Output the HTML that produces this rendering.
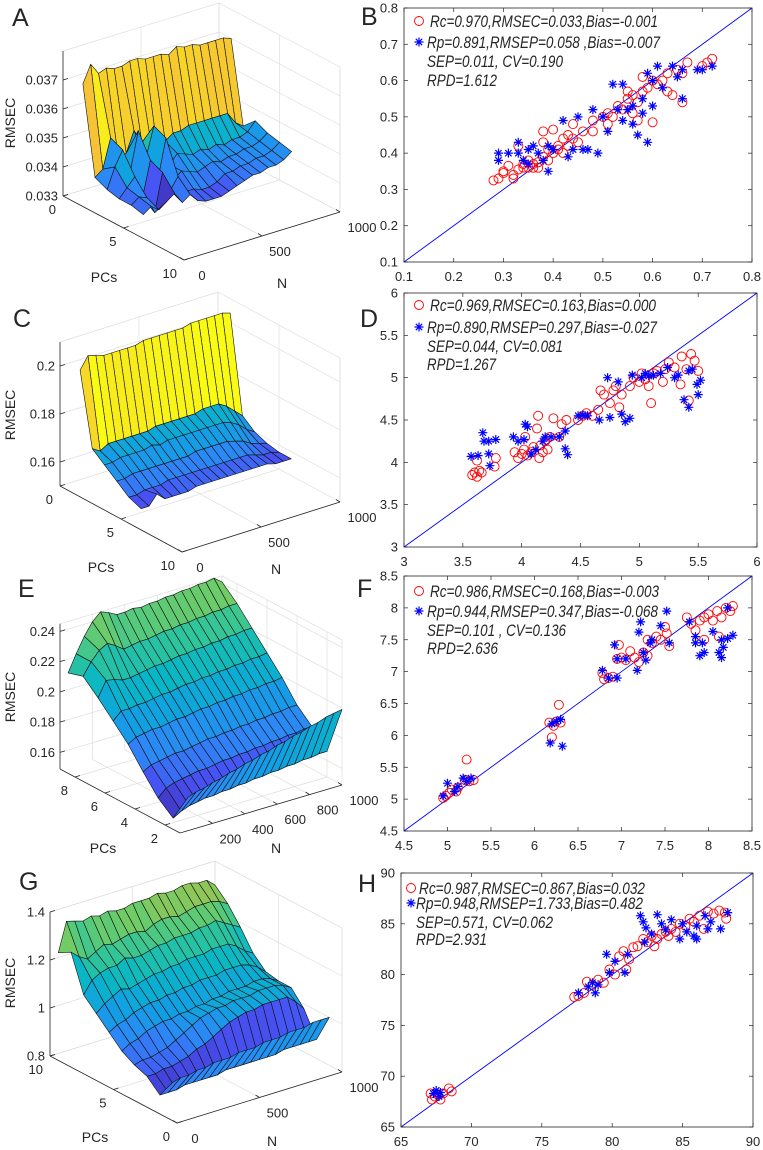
<!DOCTYPE html>
<html><head><meta charset="utf-8"><style>
html,body{margin:0;padding:0;background:#fff}
svg{display:block}
text{font-family:"Liberation Sans",Arial,sans-serif;fill:#262626}
</style></head><body>
<svg id="fig" width="763" height="1150" viewBox="0 0 763 1150" xmlns="http://www.w3.org/2000/svg">
<rect x="0" y="0" width="763" height="1150" fill="#fff"/>
<text x="12" y="26" font-size="25">A</text>
<text x="361" y="25" font-size="25">B</text>
<text x="13" y="327" font-size="25">C</text>
<text x="360" y="327" font-size="25">D</text>
<text x="18" y="597" font-size="25">E</text>
<text x="357" y="597" font-size="25">F</text>
<text x="19" y="890" font-size="25">G</text>
<text x="358" y="892" font-size="25">H</text>
</svg>
<script>
// ---------- 3D surface data ----------
const nCols = [50,100,150,200,250,300,350,400,450,500,550,600,650,700,750,800,850,900,950,1000];
const aPcs = [1,2,3,4,5,6];
const aZ = [
[.0370,.0376,.0372,.0373,.0372,.0372,.0373,.0373,.0372,.0372,.0372,.0371,.0373,.0372,.0372,.0371,.0371,.0371,.0371,.0370],
[.0340,.0342,.0352,.0344,.0345,.0352,.0347,.0349,.0343,.0345,.0347,.0347,.0348,.0348,.0348,.0348,.0348,.0348,.0344,.0342],
[.0338,.0345,.0350,.0342,.0355,.0345,.0355,.0342,.0340,.0343,.0342,.0341,.0342,.0341,.0342,.0341,.0342,.0342,.0343,.0346],
[.0337,.0340,.0343,.0335,.0347,.0340,.0353,.0338,.0340,.0339,.0338,.0339,.0340,.0339,.0340,.0340,.0341,.0341,.0342,.0344],
[.0337,.0339,.0338,.0332,.0345,.0338,.0342,.0336,.0336,.0335,.0335,.0336,.0338,.0338,.0339,.0339,.0340,.0340,.0341,.0343],
[.0336,.0338,.0336,.0338,.0340,.0336,.0338,.0335,.0334,.0334,.0334,.0335,.0336,.0337,.0338,.0338,.0339,.0339,.0340,.0342]
];
const cPcs = [1,2,3,4,5,6];
const cZ = [
[.200,.205,.204,.203,.203,.203,.203,.203,.204,.204,.204,.204,.204,.204,.205,.205,.205,.205,.205,.204],
[.170,.168,.170,.170,.170,.170,.170,.170,.171,.171,.171,.171,.171,.171,.172,.172,.172,.170,.167,.164],
[.166,.166,.167,.167,.167,.167,.168,.167,.168,.168,.168,.168,.168,.168,.168,.168,.167,.165,.162,.160],
[.162,.162,.163,.163,.163,.163,.163,.163,.163,.163,.164,.164,.164,.164,.164,.163,.162,.160,.159,.158],
[.158,.158,.159,.159,.159,.160,.160,.160,.160,.160,.160,.160,.160,.160,.160,.160,.159,.158,.158,.157],
[.156,.156,.160,.157,.157,.157,.157,.158,.158,.158,.158,.158,.158,.158,.158,.158,.158,.157,.157,.157]
];
const ePcs = [9,8,7,6,5,4,3,2,1];
const eZ = [
[.211,.222,.232,.240,.245,.243,.240,.240,.241,.240,.241,.241,.242,.242,.243,.243,.244,.244,.245,.241],
[.214,.222,.228,.231,.228,.224,.225,.226,.226,.227,.228,.228,.229,.229,.230,.230,.231,.231,.232,.232],
[.205,.215,.214,.212,.212,.213,.214,.215,.215,.216,.217,.217,.218,.218,.219,.219,.220,.220,.221,.221],
[.195,.200,.200,.201,.201,.202,.203,.203,.204,.205,.205,.206,.206,.207,.207,.208,.208,.209,.209,.210],
[.185,.188,.189,.190,.190,.191,.192,.192,.193,.194,.194,.195,.195,.196,.196,.197,.197,.198,.198,.199],
[.172,.175,.176,.177,.178,.178,.179,.180,.181,.181,.182,.182,.183,.183,.184,.184,.185,.185,.186,.186],
[.160,.165,.167,.168,.169,.170,.170,.171,.172,.172,.173,.173,.174,.174,.175,.175,.176,.176,.177,.177],
[.152,.155,.157,.158,.159,.159,.160,.160,.161,.161,.162,.162,.163,.163,.164,.164,.165,.165,.166,.166],
[.171,.173,.174,.176,.177,.179,.180,.182,.183,.185,.186,.188,.189,.191,.192,.194,.195,.197,.198,.199]
];
const gPcs = [10,9,8,7,6,5,4,3,2,1];
const gZ = [
[1.22,1.34,1.33,1.32,1.33,1.32,1.33,1.32,1.32,1.33,1.33,1.33,1.34,1.33,1.33,1.34,1.34,1.33,1.33,1.30],
[1.25,1.22,1.20,1.22,1.24,1.23,1.24,1.25,1.25,1.24,1.26,1.27,1.27,1.26,1.27,1.28,1.28,1.28,1.27,1.25],
[1.10,1.15,1.17,1.18,1.18,1.20,1.19,1.19,1.20,1.21,1.21,1.22,1.22,1.22,1.23,1.23,1.24,1.22,1.20,1.18],
[1.05,1.08,1.10,1.12,1.11,1.12,1.13,1.14,1.14,1.15,1.15,1.16,1.16,1.16,1.17,1.17,1.17,1.15,1.12,1.10],
[1.00,1.02,1.03,1.05,1.06,1.07,1.07,1.08,1.08,1.09,1.09,1.10,1.10,1.10,1.11,1.11,1.11,1.10,1.08,1.05],
[.95,.97,.98,1.00,1.01,1.02,1.02,1.03,1.03,1.04,1.04,1.05,1.05,1.06,1.06,1.06,1.07,1.07,1.06,1.04],
[.92,.93,.93,.94,.95,.97,.99,1.01,1.03,1.04,1.05,1.05,1.06,1.06,1.06,1.07,1.07,1.07,1.06,1.04],
[.90,.90,.91,.91,.92,.93,.95,.96,.98,1.00,1.02,1.03,1.04,1.04,1.05,1.05,1.05,1.05,1.02,.98],
[.85,.85,.85,.86,.86,.86,.86,.86,.87,.87,.87,.87,.87,.87,.87,.88,.88,.88,.88,.88],
[.93,.94,.94,.95,.95,.96,.96,.96,.97,.97,.97,.98,.98,.98,.99,.99,.99,1.00,1.00,1.00]
];
const aZTicks=[.033,.034,.035,.036,.037], aZLabels=["0.033","0.034","0.035","0.036","0.037"];
const cZTicks=[.16,.18,.2], cZLabels=["0.16","0.18","0.2"];
const eZTicks=[.16,.18,.2,.22,.24], eZLabels=["0.16","0.18","0.2","0.22","0.24"];
const gZTicks=[.8,1,1.2,1.4], gZLabels=["0.8","1","1.2","1.4"];
const pcTicks10=[0,5,10], pcTicksE=[2,4,6,8];
const nTicks3=[0,500,1000], nTicksE=[200,400,600,800,1000];

// ---------- scatter data ----------
const bCal=[[.28,.325],[.29,.33],[.30,.35],[.30,.345],[.31,.365],[.32,.34],[.32,.33],[.33,.355],[.33,.42],[.34,.36],[.34,.37],[.35,.36],[.35,.38],[.36,.36],[.36,.37],[.37,.375],[.37,.36],[.38,.46],[.38,.43],[.38,.39],[.39,.41],[.39,.38],[.40,.40],[.40,.465],[.41,.41],[.41,.42],[.42,.40],[.42,.44],[.43,.45],[.43,.42],[.44,.48],[.44,.44],[.45,.43],[.46,.46],[.48,.49],[.48,.46],[.50,.50],[.51,.48],[.51,.51],[.52,.50],[.53,.53],[.54,.52],[.55,.55],[.55,.57],[.56,.56],[.57,.54],[.58,.61],[.58,.57],[.59,.58],[.60,.485],[.60,.60],[.61,.59],[.62,.60],[.63,.57],[.63,.62],[.64,.56],[.65,.63],[.66,.54],[.66,.62],[.67,.65],[.70,.64],[.71,.65],[.72,.66],[.57,.49],[.56,.51]];
const bPred=[[.29,.38],[.29,.40],[.31,.40],[.33,.43],[.33,.40],[.34,.38],[.35,.37],[.35,.41],[.36,.42],[.37,.40],[.38,.38],[.39,.35],[.39,.42],[.40,.41],[.42,.49],[.43,.39],[.44,.41],[.45,.50],[.46,.41],[.47,.41],[.49,.40],[.48,.52],[.50,.50],[.51,.46],[.52,.59],[.53,.52],[.54,.59],[.55,.52],[.56,.53],[.56,.48],[.57,.45],[.58,.51],[.58,.55],[.59,.43],[.59,.62],[.60,.60],[.60,.53],[.61,.64],[.62,.58],[.64,.64],[.65,.61],[.66,.55],[.66,.63],[.69,.63],[.70,.63],[.72,.64],[.54,.49]];
const dCal=[[3.58,3.85],[3.6,3.88],[3.62,3.83],[3.64,3.9],[3.66,3.88],[3.62,4.02],[3.77,3.95],[3.78,4.05],[3.94,4.12],[3.97,4.05],[4.0,4.1],[4.02,4.15],[4.03,4.3],[4.05,4.08],[4.08,4.12],[4.1,4.18],[4.13,4.4],[4.14,4.55],[4.15,4.05],[4.16,4.2],[4.18,4.12],[4.2,4.25],[4.22,4.15],[4.24,4.3],[4.27,4.52],[4.32,4.3],[4.34,4.45],[4.38,4.5],[4.48,4.5],[4.52,4.55],[4.55,4.58],[4.6,4.55],[4.65,4.62],[4.67,4.85],[4.7,4.8],[4.75,4.7],[4.78,4.85],[4.8,4.9],[4.83,4.65],[4.85,4.8],[4.92,4.9],[4.95,5.0],[5.0,4.95],[5.02,5.05],[5.05,4.98],[5.08,4.9],[5.1,4.7],[5.12,5.05],[5.15,5.08],[5.2,4.95],[5.22,5.1],[5.25,5.18],[5.3,5.12],[5.35,4.92],[5.36,5.25],[5.4,5.1],[5.42,4.73],[5.44,5.28],[5.47,5.2],[5.5,5.08]];
const dPred=[[3.57,4.07],[3.63,4.08],[3.67,4.35],[3.68,4.25],[3.72,4.1],[3.72,4.25],[3.73,3.96],[3.78,4.27],[3.93,4.3],[3.97,4.25],[4.02,4.27],[4.03,4.45],[4.05,4.42],[4.08,4.1],[4.12,4.15],[4.18,4.25],[4.2,4.3],[4.25,4.3],[4.32,4.3],[4.37,4.37],[4.37,4.16],[4.39,4.09],[4.48,4.55],[4.52,4.56],[4.56,4.55],[4.66,4.5],[4.73,5.0],[4.75,4.53],[4.82,4.95],[4.85,4.57],[4.88,4.48],[4.92,4.52],[4.94,5.03],[5.02,5.0],[5.05,5.05],[5.08,5.02],[5.12,5.03],[5.18,5.05],[5.24,5.12],[5.3,5.0],[5.33,5.03],[5.38,4.74],[5.42,4.65],[5.42,5.08],[5.45,5.1],[5.49,4.92],[5.5,4.8],[5.52,4.97]];
const fCal=[[4.95,5.02],[4.98,5.05],[5.02,5.1],[5.05,5.15],[5.1,5.12],[5.12,5.18],[5.2,5.3],[5.22,5.62],[5.25,5.28],[5.3,5.3],[6.17,6.2],[6.2,5.97],[6.22,6.15],[6.25,6.22],[6.28,6.48],[6.3,6.2],[6.78,6.98],[6.8,6.88],[6.85,6.9],[6.9,6.92],[6.95,7.2],[6.97,7.42],[7.0,7.22],[7.05,7.18],[7.1,7.32],[7.15,7.22],[7.2,7.15],[7.25,7.3],[7.3,7.5],[7.3,7.25],[7.35,7.45],[7.4,7.55],[7.45,7.5],[7.5,7.7],[7.52,7.6],[7.55,7.4],[7.75,7.85],[7.8,7.75],[7.85,7.65],[7.9,7.8],[7.95,7.85],[8.0,7.9],[8.05,7.8],[8.1,7.95],[8.15,7.85],[8.2,8.0],[8.25,7.95],[8.28,8.03],[7.95,7.5],[8.12,7.55]];
const fPred=[[4.95,5.05],[5.0,5.25],[5.08,5.12],[5.12,5.2],[5.18,5.33],[5.22,5.28],[5.27,5.33],[6.18,5.88],[6.2,6.18],[6.25,6.22],[6.32,5.83],[6.3,6.25],[6.78,7.02],[6.85,6.9],[6.92,7.42],[6.95,7.2],[6.95,6.9],[7.05,7.2],[7.18,7.02],[7.2,7.62],[7.22,7.78],[7.25,7.3],[7.28,7.18],[7.33,7.45],[7.35,7.5],[7.45,7.72],[7.52,7.95],[7.55,7.45],[7.78,7.78],[7.85,7.45],[7.85,7.55],[7.9,7.25],[7.93,7.45],[7.95,7.3],[8.05,7.63],[8.12,7.3],[8.15,7.22],[8.17,7.38],[8.15,7.5],[8.22,7.52],[8.22,8.0],[8.28,7.57]];
const hCal=[[67.1,68.3],[67.2,67.7],[67.4,68.0],[67.6,68.2],[67.8,67.7],[68.0,68.3],[68.4,68.8],[68.6,68.5],[77.3,77.8],[77.6,77.9],[78.0,78.2],[78.2,79.3],[78.6,79.0],[79.0,79.5],[79.4,79.2],[79.8,80.5],[80.2,80.0],[80.5,81.8],[80.8,82.3],[81.2,81.5],[81.5,82.7],[81.8,82.8],[82.2,83.5],[82.5,83.2],[82.8,83.8],[83.2,83.5],[83.5,84.0],[83.8,84.2],[84.2,84.5],[84.5,84.2],[84.8,85.0],[85.2,84.8],[85.5,85.5],[85.8,85.2],[86.2,85.8],[86.5,84.5],[86.8,86.2],[87.2,86.0],[87.6,86.3],[88.0,86.1],[88.1,85.5],[81.0,80.5],[83.0,82.8],[84.0,83.8]];
const hPred=[[67.3,68.3],[67.5,68.6],[67.7,68.0],[67.8,68.4],[77.6,78.2],[78.3,78.8],[78.6,79.2],[78.8,78.2],[79.0,79.0],[79.6,82.0],[79.8,80.2],[80.2,81.3],[80.9,80.2],[81.1,82.0],[82.0,85.8],[82.2,85.2],[82.4,84.6],[82.3,83.2],[82.8,84.0],[83.2,85.9],[83.5,85.0],[83.8,84.4],[84.2,85.4],[84.8,83.5],[85.3,84.2],[85.8,83.8],[86.0,83.5],[86.6,85.8],[86.8,84.5],[87.0,85.2],[87.7,84.5],[88.2,86.1],[86.0,84.8],[85.0,85.0]];
const bTicks=[.1,.2,.3,.4,.5,.6,.7,.8], bTickLabels=["0.1","0.2","0.3","0.4","0.5","0.6","0.7","0.8"];
const dTicks=[3,3.5,4,4.5,5,5.5,6], dTickLabels=["3","3.5","4","4.5","5","5.5","6"];
const fTicks=[4.5,5,5.5,6,6.5,7,7.5,8,8.5], fTickLabels=["4.5","5","5.5","6","6.5","7","7.5","8","8.5"];
const hTicks=[65,70,75,80,85,90], hTickLabels=["65","70","75","80","85","90"];
const bLegend=["Rc=0.970,RMSEC=0.033,Bias=-0.001","Rp=0.891,RMSEP=0.058 ,Bias=-0.007","SEP=0.011, CV=0.190","RPD=1.612"];
const dLegend=["Rc=0.969,RMSEC=0.163,Bias=0.000","Rp=0.890,RMSEP=0.297,Bias=-0.027","SEP=0.044, CV=0.081","RPD=1.267"];
const fLegend=["Rc=0.986,RMSEC=0.168,Bias=-0.003","Rp=0.944,RMSEP=0.347,Bias=-0.068","SEP=0.101 , CV=0.136","RPD=2.636"];
const hLegend=["Rc=0.987,RMSEC=0.867,Bias=0.032","Rp=0.948,RMSEP=1.733,Bias=0.482","SEP=0.571, CV=0.062","RPD=2.931"];

const NS="http://www.w3.org/2000/svg";
const svg=document.getElementById('fig');
function mk(tag,attrs,parent){const e=document.createElementNS(NS,tag);for(const k in attrs)e.setAttribute(k,attrs[k]);(parent||svg).appendChild(e);return e;}

const PAR=[[0,.2422,.1504,.6603],[.1,.2810,.3228,.9579],[.2,.1786,.5289,.9682],[.3,.0689,.6279,.8890],[.4,.0333,.7149,.7773],[.5,.1800,.7700,.6100],[.6,.4420,.8000,.4000],[.7,.7300,.7400,.2700],[.8,.9700,.7300,.2400],[.9,.9700,.8400,.1500],[1,.9769,.9839,.0805]];
function parula(t){t=Math.max(0,Math.min(1,t));for(let i=1;i<PAR.length;i++){if(t<=PAR[i][0]){const a=PAR[i-1],b=PAR[i],f=(t-a[0])/(b[0]-a[0]);const c=[1,2,3].map(j=>Math.round(255*(a[j]+f*(b[j]-a[j]))));return `rgb(${c[0]},${c[1]},${c[2]})`;}}return '#ff0';}

function draw3D(id,cfg,pcs,ns,Z,zTicks,zLabels,pcTicks,nTicks){
  const g=mk('g',{});
  
  
  const P=(pc,n,z)=>{const pf=(pc-cfg.pcStart)/(cfg.pcEnd-cfg.pcStart),nf=n/cfg.nMax;return [cfg.O[0]+pf*cfg.vP[0]+nf*cfg.vN[0],cfg.O[1]+pf*cfg.vP[1]+nf*cfg.vN[1]-(z-cfg.zmin)*cfg.zs];};
  const line=(a,b,col,w,name)=>{const l=mk('line',{x1:a[0].toFixed(1),y1:a[1].toFixed(1),x2:b[0].toFixed(1),y2:b[1].toFixed(1),stroke:col,'stroke-width':w},g);};
  const gc='#dedede';
  const pS=cfg.pcStart,pE=cfg.pcEnd,nM=cfg.nMax,z0=cfg.zmin,z1=cfg.zmax;
  zTicks.forEach(z=>{line(P(pS,0,z),P(pS,nM,z),gc,0.7,'back-wall-gridline');line(P(pS,nM,z),P(pE,nM,z),gc,0.7,'side-wall-gridline');});
  nTicks.forEach(n=>{line(P(pS,n,z0),P(pS,n,z1),gc,0.7,'back-wall-gridline');line(P(pS,n,z0),P(pE,n,z0),gc,0.7,'floor-gridline');});
  pcTicks.forEach(p=>{line(P(p,nM,z0),P(p,nM,z1),gc,0.7,'side-wall-gridline');line(P(p,0,z0),P(p,nM,z0),gc,0.7,'floor-gridline');});
  line(P(pS,0,z1),P(pS,nM,z1),gc,0.7,'back-wall-edge');line(P(pS,nM,z0),P(pS,nM,z1),gc,0.7,'back-corner-edge');
  line(P(pS,nM,z1),P(pE,nM,z1),gc,0.7,'side-wall-edge');line(P(pE,nM,z0),P(pE,nM,z1),gc,0.7,'side-wall-edge');
  const quads=[];
  for(let i=0;i<pcs.length-1;i++)for(let j=0;j<ns.length-1;j++){
    const pf=((pcs[i]+pcs[i+1])/2-pS)/(pE-pS),nf=((ns[j]+ns[j+1])/2)/nM;
    quads.push({i,j,far:(1-pf)*1.0+nf*1.05});
  }
  quads.sort((a,b)=>b.far-a.far);
  quads.forEach(q=>{const i=q.i,j=q.j;
    const pts=[P(pcs[i],ns[j],Z[i][j]),P(pcs[i],ns[j+1],Z[i][j+1]),P(pcs[i+1],ns[j+1],Z[i+1][j+1]),P(pcs[i+1],ns[j],Z[i+1][j])];
    const iLow=pcs[i]<pcs[i+1]?i:i+1;
    const zc=Z[iLow][j];
    const poly=mk('polygon',{points:pts.map(p=>p[0].toFixed(1)+','+p[1].toFixed(1)).join(' '),fill:parula((zc-cfg.clim[0])/(cfg.clim[1]-cfg.clim[0])),stroke:'#111','stroke-width':0.6,'stroke-linejoin':'round'},g);
    
    
  });
  const ac='#262626';
  line(P(pS,0,z0),P(pS,0,z1),ac,0.8,'z-axis-line');
  line(P(pS,0,z0),P(pE,0,z0),ac,0.8,'pc-axis-line');
  line(P(pE,0,z0),P(pE,nM,z0),ac,0.8,'n-axis-line');
  zTicks.forEach((z,k)=>{const p=P(pS,0,z);line(p,[p[0]+5,p[1]-1.5],ac,0.8,'z-tick');
    const t=mk('text',{x:(p[0]-5).toFixed(1),y:(p[1]+4.5).toFixed(1),'font-size':13,'text-anchor':'end'},g);t.textContent=zLabels[k];});
  pcTicks.forEach(pc=>{const p=P(pc,0,z0);line(p,[p[0]+5,p[1]-1.5],ac,0.8,'pc-tick');
    const t=mk('text',{x:(p[0]-7).toFixed(1),y:(p[1]+18).toFixed(1),'font-size':13,'text-anchor':'end'},g);t.textContent=String(pc);});
  nTicks.forEach(n=>{const p=P(pE,n,z0);line(p,[p[0]-4,p[1]-2.5],ac,0.8,'n-tick');
    const t=mk('text',{x:(p[0]+(n===nM?22:18)).toFixed(1),y:(p[1]+20).toFixed(1),'font-size':13,'text-anchor':'middle'},g);t.textContent=String(n);});
  const zl=mk('text',{x:0,y:0,'font-size':14,'text-anchor':'middle',transform:`translate(${cfg.zlab[0]},${cfg.zlab[1]}) rotate(-90)`},g);zl.textContent='RMSEC';
  const pl=mk('text',{x:cfg.pclab[0],y:cfg.pclab[1],'font-size':14,'text-anchor':'middle'},g);pl.textContent='PCs';
  const nl=mk('text',{x:cfg.nlab[0],y:cfg.nlab[1],'font-size':14,'text-anchor':'middle'},g);nl.textContent='N';
}

draw3D('panel-a',{O:[63,196],vP:[121,64],vN:[156,-48],zmin:.033,zmax:.038,zs:29000,pcStart:0,pcEnd:10,nMax:1000,clim:[.033,.0378],zlab:[15,123],pclab:[104,282],nlab:[282,288]},aPcs,nCols,aZ,aZTicks,aZLabels,pcTicks10,nTicks3);
draw3D('panel-c',{O:[60,486],vP:[122,66],vN:[158,-50],zmin:.15,zmax:.21,zs:2400,pcStart:0,pcEnd:10,nMax:1000,clim:[.153,.205],zlab:[15,415],pclab:[101,572],nlab:[276,574]},cPcs,nCols,cZ,cZTicks,cZLabels,pcTicks10,nTicks3);
draw3D('panel-e',{O:[60,769],vP:[120,64],vN:[162,-48],zmin:.149,zmax:.245,zs:1512,pcStart:9,pcEnd:1,nMax:1000,clim:[.145,.29],zlab:[15,697],pclab:[103,853],nlab:[276,853]},ePcs,nCols,eZ,eZTicks,eZLabels,pcTicksE,nTicksE);
draw3D('panel-g',{O:[50,1056],vP:[127,67],vN:[165,-51],zmin:.8,zmax:1.4,zs:240,pcStart:10,pcEnd:0,nMax:1000,clim:[.8,1.55],zlab:[15,983],pclab:[95,1142],nlab:[272,1146]},gPcs,nCols,gZ,gZTicks,gZLabels,pcTicks10,nTicks3);

function star(g,x,y,r){const d=[];for(let k=0;k<4;k++){const a=k*Math.PI/4;d.push(`M${(x-r*Math.cos(a)).toFixed(1)},${(y-r*Math.sin(a)).toFixed(1)}L${(x+r*Math.cos(a)).toFixed(1)},${(y+r*Math.sin(a)).toFixed(1)}`);}
  const p=mk('path',{d:d.join(''),stroke:'#0000ff','stroke-width':1.2,fill:'none'},g);return p;}

function drawScatter(id,box,dom,ticks,tickLabels,cal,pred,legend,leg){
  const g=mk('g',{});
  
  
  const sx=v=>box[0]+(v-dom[0])/(dom[1]-dom[0])*(box[2]-box[0]);
  const sy=v=>box[3]-(v-dom[0])/(dom[1]-dom[0])*(box[3]-box[1]);
  const bg=mk('rect',{x:box[0],y:box[1],width:box[2]-box[0],height:box[3]-box[1],fill:'#fff',stroke:'none'},g);
  
  ticks.forEach((t,k)=>{
    const X=sx(t),Y=sy(t);
    [[X,box[3],X,box[3]-4],[X,box[1],X,box[1]+4],[box[0],Y,box[0]+4,Y],[box[2],Y,box[2]-4,Y]].forEach(c=>{const l=mk('line',{x1:c[0],y1:c[1],x2:c[2],y2:c[3],stroke:'#262626','stroke-width':0.7},g);});
    const tx=mk('text',{x:X.toFixed(1),y:box[3]+19,'font-size':13,'text-anchor':'middle'},g);tx.textContent=tickLabels[k];
    const ty=mk('text',{x:box[0]-6,y:(Y+4.5).toFixed(1),'font-size':13,'text-anchor':'end'},g);ty.textContent=tickLabels[k];
  });
  const dl=mk('line',{x1:sx(dom[0]),y1:sy(dom[0]),x2:sx(dom[1]),y2:sy(dom[1]),stroke:'#0000ff','stroke-width':0.9},g);
  
  cal.forEach(p=>{const c=mk('circle',{cx:sx(p[0]).toFixed(1),cy:sy(p[1]).toFixed(1),r:4.5,fill:'none',stroke:'#ff0000','stroke-width':0.9},g);});
  pred.forEach(p=>{const s=star(g,sx(p[0]),sy(p[1]),4.5);});
  const fr=mk('rect',{x:box[0],y:box[1],width:box[2]-box[0],height:box[3]-box[1],fill:'none',stroke:'#262626','stroke-width':0.8},g);
  
  const lc=mk('circle',{cx:leg.mx,cy:leg.ys[0],r:4.5,fill:'none',stroke:'#ff0000','stroke-width':0.9},g);
  const ls=star(g,leg.mx,leg.ys[1],4.5);
  legend.forEach((s,k)=>{const t=mk('text',{x:leg.xs[k],y:leg.ys[k]+6,'font-size':17,'font-style':'italic',textLength:leg.ws[k],lengthAdjust:'spacingAndGlyphs'},g);t.textContent=s;});
}
drawScatter('panel-b',[404,8,752,262],[.1,.8],bTicks,bTickLabels,bCal,bPred,bLegend,{mx:419,xs:[430,427,427,427],ys:[21,42,61,80],ws:[228,233,136,70]});
drawScatter('panel-d',[404,293,757,547],[3,6],dTicks,dTickLabels,dCal,dPred,dLegend,{mx:419,xs:[430,427,427,427],ys:[305,327,346,364],ws:[226,230,136,69]});
drawScatter('panel-f',[404,576,752,831],[4.5,8.5],fTicks,fTickLabels,fCal,fPred,fLegend,{mx:419,xs:[430,427,427,427],ys:[591,611,630,648],ws:[229,231,139,71]});
drawScatter('panel-h',[401,873,753,1127],[65,90],hTicks,hTickLabels,hCal,hPred,hLegend,{mx:411,xs:[419,416,416,416],ys:[888,903,922,939],ws:[226,227,137,71]});
</script>
</body></html>
